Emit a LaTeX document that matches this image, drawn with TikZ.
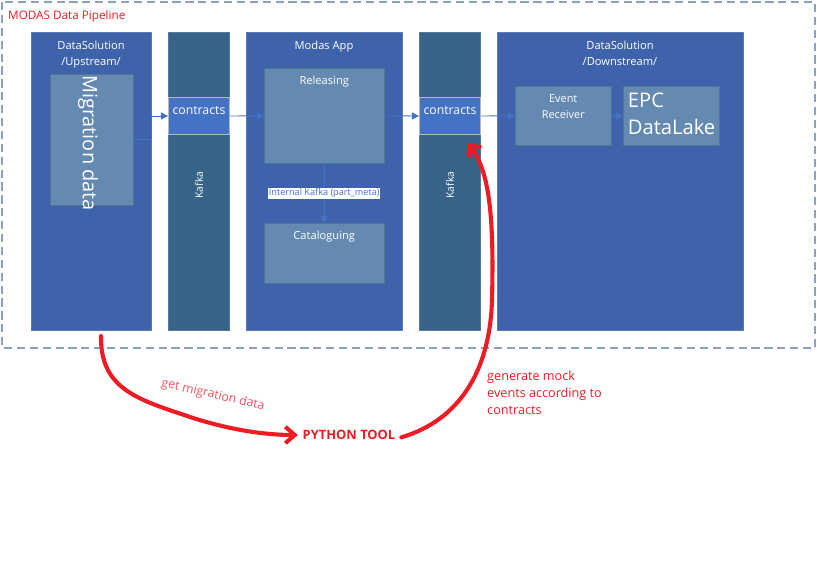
\documentclass[tikz,border=0pt]{standalone}
\usepackage{fontspec}
\setmainfont{Open Sans}
\usetikzlibrary{arrows.meta}
\definecolor{boxblue}{RGB}{63,99,171}
\definecolor{kafkablue}{RGB}{55,99,136}
\definecolor{innerblue}{RGB}{100,138,178}
\definecolor{contractblue}{RGB}{68,114,196}
\definecolor{framegray}{RGB}{140,160,196}
\definecolor{mred}{RGB}{237,28,36}
\definecolor{lightred}{RGB}{240,84,96}
\tikzset{
  wh/.style 2 args={minimum width=#1*0.03cm, minimum height=#2*0.03cm},
  block/.style={draw=boxblue!85!white, fill=boxblue, inner sep=0pt, anchor=north west},
  kafkacol/.style={block, draw=kafkablue!85!white, fill=kafkablue},
  subbox/.style={block, draw=innerblue!85!black, fill=innerblue},
  contract/.style={block, draw=gray!55!white, line width=0.8pt, fill=contractblue,
    label={[anchor=north, yshift=-8pt, inner sep=0pt, text=white, font=\fontsize{10.5}{12}\selectfont]north:#1}},
  ttl/.style={text=white, align=center, font=\fontsize{9.5}{13.5}\selectfont, anchor=north, inner sep=0pt},
  flow/.style={draw=contractblue, line width=0.7pt, -{Triangle[length=6pt,width=6pt]}},
  redcurve/.style={draw=mred, line width=3.5pt, line cap=round, -{Straight Barb[length=8pt,width=14pt]}},
}
\begin{document}
\begin{tikzpicture}[x=0.03cm, y=-0.03cm]
    \useasboundingbox (0,0) rectangle (817,564);
    % Rahmen
    \draw[framegray, line width=1pt, dash pattern=on 7pt off 4pt] (2,2) rectangle (815,348);
    \node[anchor=west, text=mred, font=\fontsize{10}{12}\selectfont, inner sep=0pt] (pipe) at (8,16) {MODAS Data Pipeline};
    % Upstream
    \node[block, wh={120}{298}] (up) at (31,32) {};
    \node[ttl] (uptitle) at (91,41) {DataSolution\\/Upstream/};
    \node[subbox, wh={83}{131}] (mig) at (50,74) {};
    \node[rotate=-90, text=white, font=\fontsize{17}{18}\selectfont] (migtext) at (88,143) {Migration data};
    % Kafka 1
    \node[kafkacol, wh={61}{298}] (kafka1) at (168,32) {};
    \node[rotate=90, text=white, font=\fontsize{8.8}{10}\selectfont] (kafkatext1) at (199,185) {Kafka};
    \node[contract=contracts, wh={61}{37}] (con1) at (168,97) {};
    % Modas App
    \node[block, wh={156}{298}] (app) at (246,32) {};
    \node[ttl] (apptitle) at (324,41) {Modas App};
    \node[subbox, wh={120}{95}] (rel) at (264,68) {};
    \node[ttl] (reltitle) at (rel.north) [yshift=-7pt] {Releasing};
    \node[subbox, wh={120}{60}] (cat) at (264,223) {};
    \node[ttl] (cattitle) at (cat.north) [yshift=-7pt] {Cataloguing};
    % Kafka 2
    \node[kafkacol, wh={61}{298}] (kafka2) at (419,32) {};
    \node[rotate=90, text=white, font=\fontsize{8.8}{10}\selectfont] (kafkatext2) at (450,185) {Kafka};
    \node[contract=contracts, wh={61}{37}] (con2) at (419,97) {};
    % Downstream
    \node[block, wh={246}{298}] (down) at (497,32) {};
    \node[ttl] (downtitle) at (620,41) {DataSolution\\/Downstream/};
    \node[subbox, wh={96}{59}] (evr) at (515,86) {};
    \node[ttl, font=\fontsize{9.3}{13.8}\selectfont] (evrtitle) at (evr.north) [yshift=-7pt] {Event\\Receiver};
    \node[subbox, wh={96}{59}] (epc) at (623,86) {};
    \node[text=white, align=left, anchor=north west, inner sep=0pt, font=\fontsize{17.2}{22.5}\selectfont] (epctitle) at ([xshift=4pt,yshift=-6pt]epc.north west) {EPC\\DataLake};
    % Pfeile
    \coordinate (upbend) at (151,139);
    \draw[flow, -] (mig.east |- upbend) -- (upbend);
    \draw[flow] (upbend) |- (con1.west);
    \draw[flow] (con1.east) -- (rel.west);
    \draw[flow] (rel.south) -- (cat.north)
      node[midway, fill=white, text=contractblue, inner sep=0.6pt, font=\fontsize{7.8}{9}\selectfont] (intkafka) {Internal Kafka (part\_meta)};
    \draw[flow] (rel.east) -- (con2.west);
    \draw[flow] (con2.east) -- (evr.west);
    \draw[flow] (evr.east) -- (epc.west);
    % Python Tool
    \node[text=mred, font=\bfseries\fontsize{11}{12}\selectfont, inner sep=0pt] (py) at (349,435) {PYTHON TOOL};
    \coordinate (getstart) at (101,336);
    \coordinate (mockend) at (467,143);
    \draw[redcurve] (getstart) .. controls (100,390) and (140,400) .. (190,417)
      .. controls (230,430) and (265,435) .. ([xshift=-4pt]py.west);
    \draw[redcurve] ([xshift=5pt,yshift=-2pt]py.east) .. controls (460,420) and (490,370) .. (492,300)
      .. controls (494,220) and (490,170) .. (mockend);
    \node[rotate=-13, text=lightred, font=\fontsize{10.5}{12}\selectfont] (getlabel) at (213,395) {get migration data};
    \node[anchor=north west, align=left, text=mred, inner sep=0pt, font=\fontsize{10.8}{14.5}\selectfont] (mocklabel) at (487,371) {generate mock\\events according to\\contracts};
\end{tikzpicture}
\end{document}
